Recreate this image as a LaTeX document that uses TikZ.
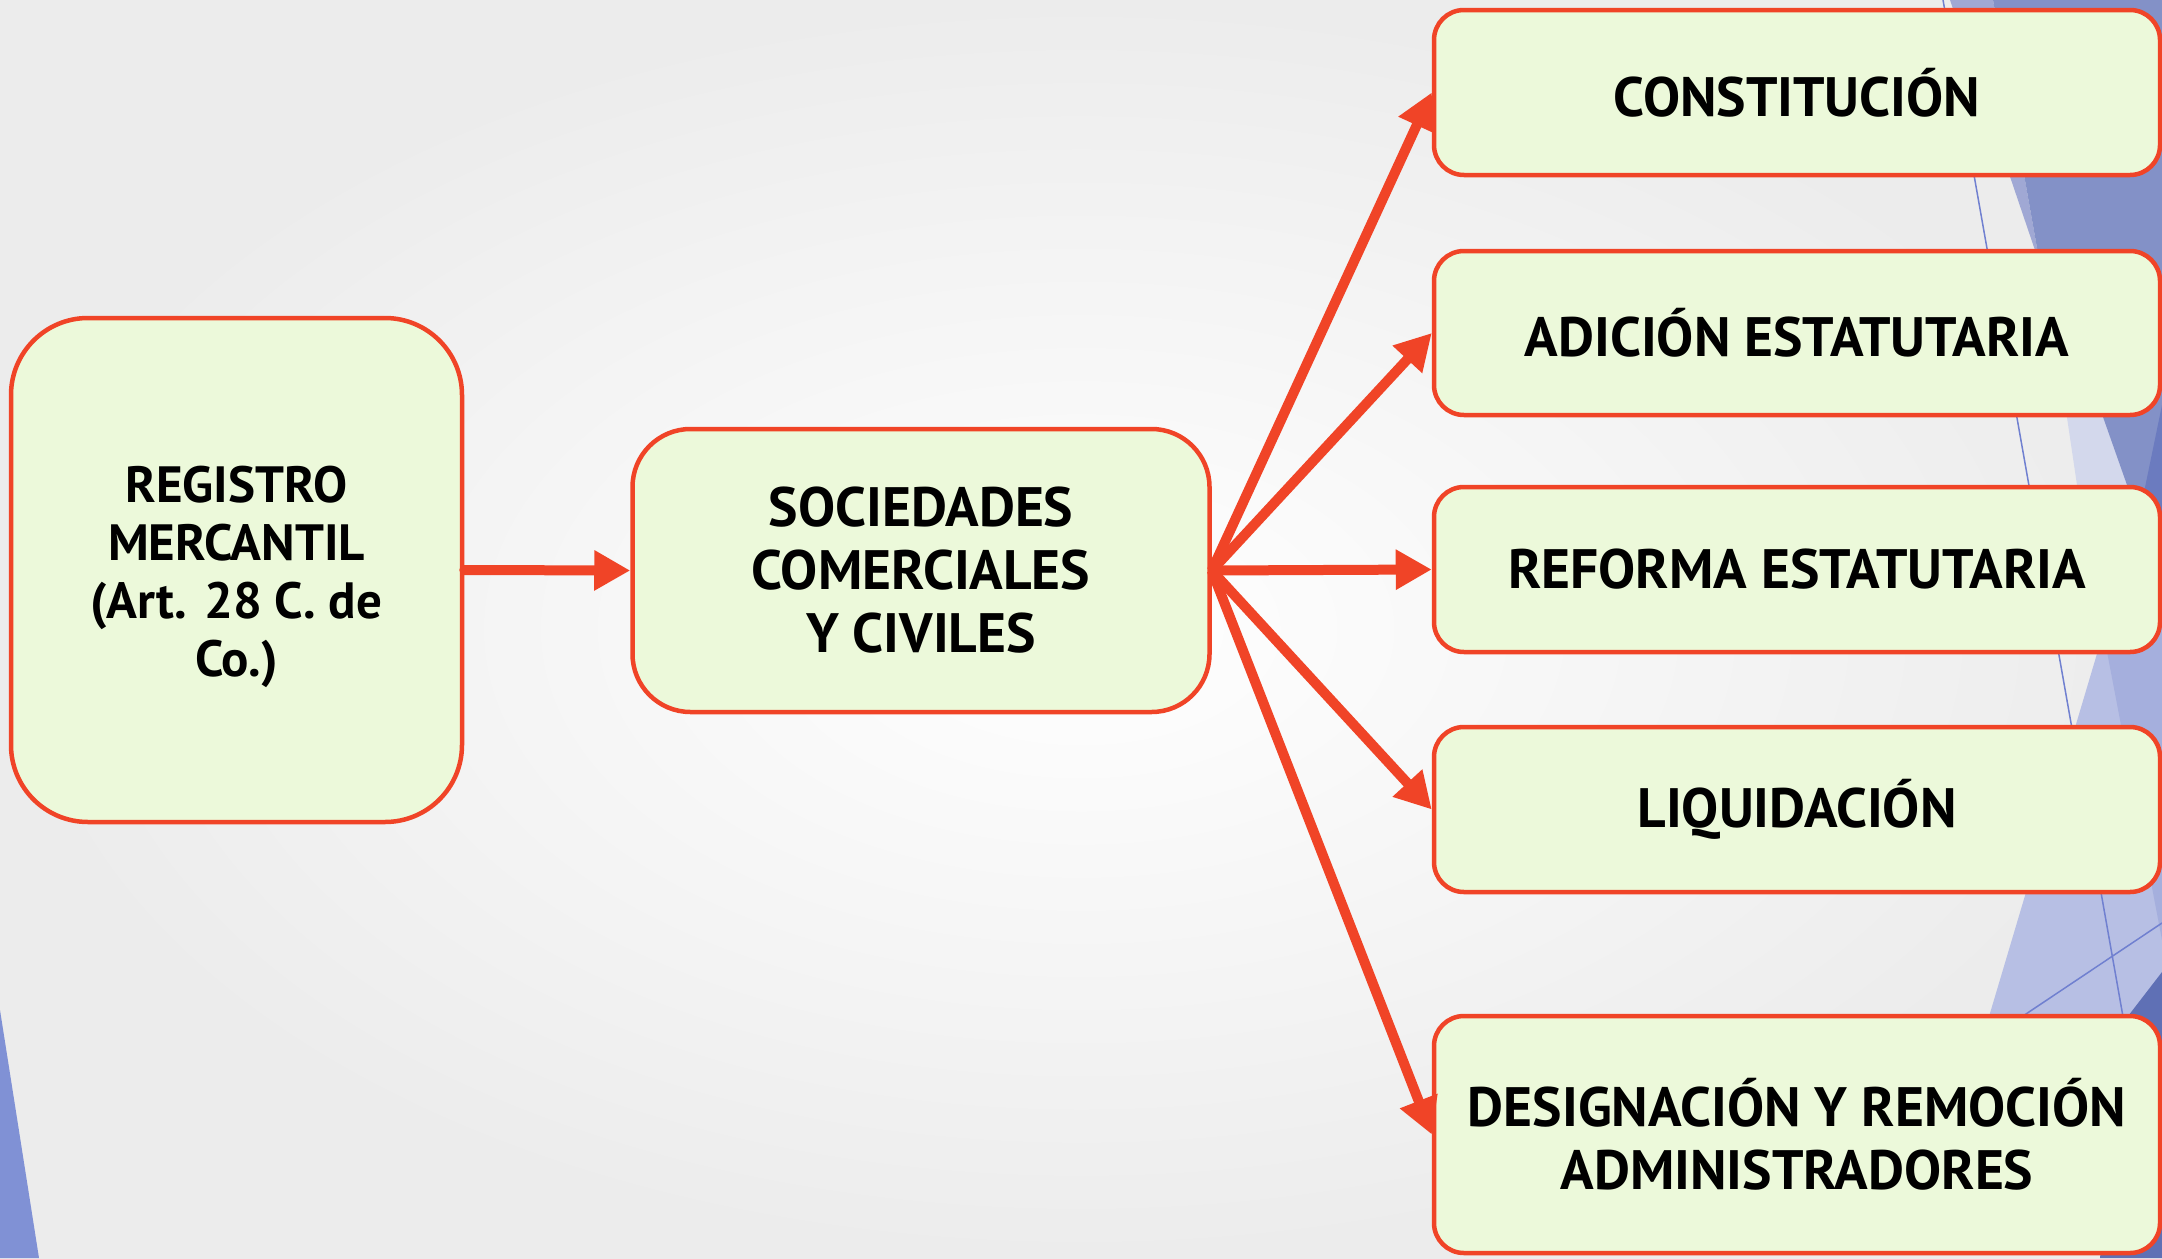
\documentclass[tikz,border=0pt]{standalone}
\usepackage{fontspec}
\setmainfont{PT Sans}
\usetikzlibrary{arrows.meta}
\definecolor{bordr}{HTML}{F04427}
\definecolor{boxfill}{HTML}{ECF9DA}
\definecolor{bgout}{HTML}{ECECEC}
\definecolor{decoA}{HTML}{A0A8D4}
\definecolor{decoB}{HTML}{8391C7}
\definecolor{decoC}{HTML}{6B7BBF}
\definecolor{decoD}{HTML}{D3D8EC}
\definecolor{decoE}{HTML}{B7BFE4}
\definecolor{decoF}{HTML}{A5AFDD}
\definecolor{decoG}{HTML}{5F70B5}
\definecolor{decoL}{HTML}{8091D5}
\definecolor{thinblue}{HTML}{7080D0}
\begin{document}
\begin{tikzpicture}[x=1pt,y=-1pt,
  box/.style={draw=bordr, line width=4.5pt, fill=boxfill, align=center,
    inner sep=0pt, font=\bfseries\fontsize{55.5}{63}\selectfont},
  rbox/.style={box, rounded corners=30pt, minimum width=726pt},
  conn/.style={draw=bordr, line width=10pt, -{Triangle[length=36pt,width=38pt]}}]
\useasboundingbox (0,0) rectangle (2162,1258);
% background
\shade[inner color=white, outer color=bgout] (0,0) rectangle (2162,1258);
% decorations right
\fill[decoD] (2054,330) -- (2162,330) -- (2162,640) -- (2100,640) -- cycle;
\fill[decoA] (1950,0) -- (1993,0) -- (2040,265) -- cycle;
\fill[decoB] (1993,0) -- (2162,0) -- (2162,585) -- (2127,485) -- (2103,417) -- (2037,248) -- cycle;
\fill[decoC] (2162,405) -- (2130,560) -- (2162,600) -- cycle;
\fill[decoE] (2110,610) -- (2162,610) -- (2162,1030) -- (1985,1030) -- cycle;
\fill[decoF] (2100,615) -- (2162,615) -- (2162,940) -- cycle;
\fill[decoG] (2125,1020) -- (2162,972) -- (2162,1258) -- (2100,1258) -- cycle;
\draw[thinblue, line width=1.5pt] (1943,0) -- (2128,1045);
\draw[thinblue, line width=1.5pt] (2005,1028) -- (2162,923);
% decoration bottom left
\fill[decoL] (0,1010) -- (39,1258) -- (0,1258) -- cycle;
% nodes
\node[box, rounded corners=77pt, minimum width=451pt, minimum height=504pt,
  font=\bfseries\fontsize{51}{58}\selectfont] (reg) at (236.5,570)
  {\rule{0pt}{50pt}REGISTRO\\MERCANTIL\\(Art. 28 C. de\\Co.)};
\node[box, rounded corners=58pt, minimum width=577pt, minimum height=283pt] (soc) at (921,570.5)
  {SOCIEDADES\\COMERCIALES\\Y CIVILES};
\node[rbox, minimum height=165pt] (b1) at (1797,92.5) {CONSTITUCIÓN};
\node[rbox, minimum height=164pt] (b2) at (1797,333) {ADICIÓN ESTATUTARIA};
\node[rbox, minimum height=165pt] (b3) at (1797,569.5) {REFORMA ESTATUTARIA};
\node[rbox, minimum height=165pt] (b4) at (1797,809.5) {LIQUIDACIÓN};
\node[rbox, minimum height=237pt] (b5) at (1797,1134.5) {DESIGNACIÓN Y REMOCIÓN\\ADMINISTRADORES};
% connectors
\draw[conn, line cap=round] (reg.east) -- (soc.west);
\foreach \t in {b1,b2,b3,b4,b5} \draw[conn] (soc.east) -- (\t.west);
\end{tikzpicture}
\end{document}
